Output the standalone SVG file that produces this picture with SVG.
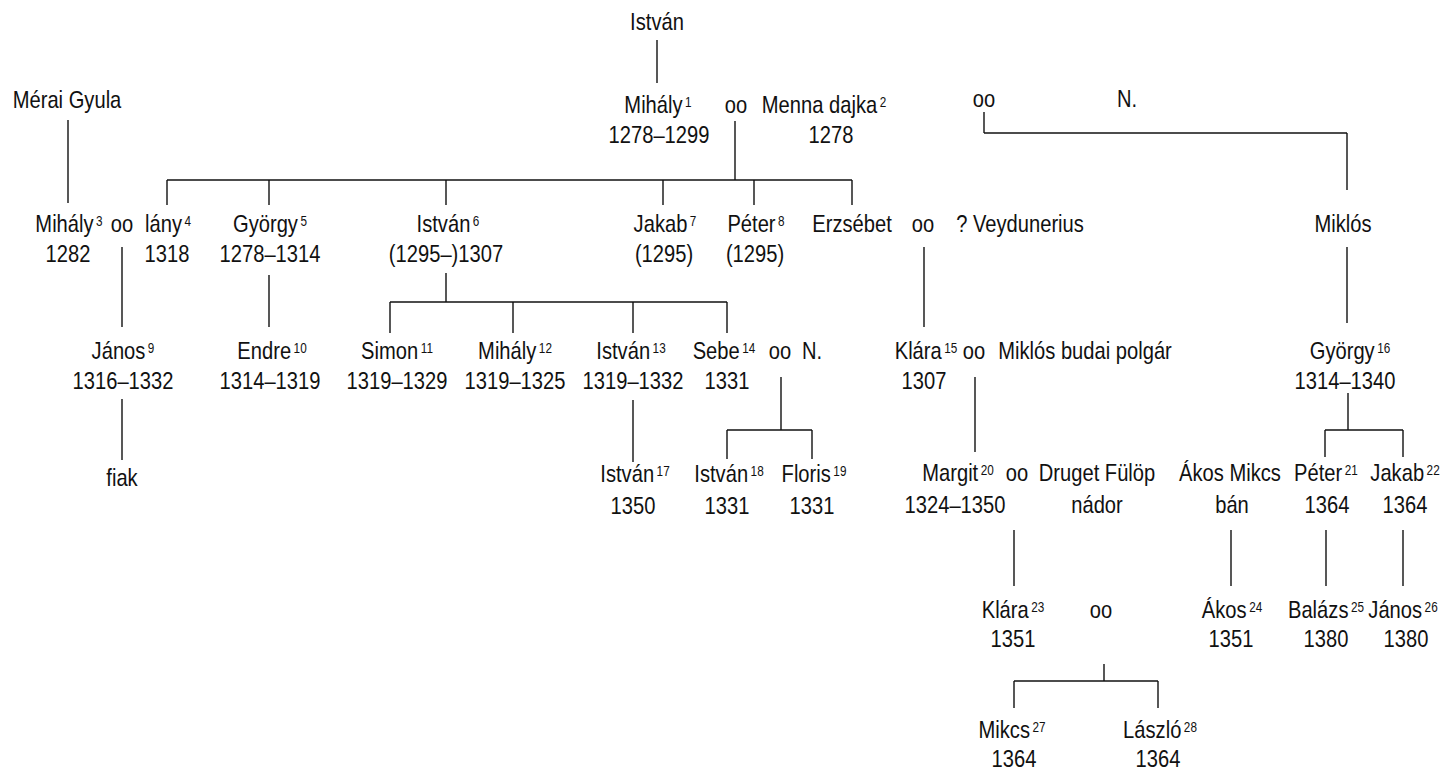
<svg xmlns="http://www.w3.org/2000/svg" width="1445" height="771" viewBox="0 0 1445 771">
<style>
text{font-family:"Liberation Sans",Arial,sans-serif;font-size:24px;fill:#111;text-anchor:middle}
.s{font-size:14px}
#connectors line{stroke:#111;stroke-width:1.4;fill:none}
</style>
<rect width="1445" height="771" fill="#fff"/>
<g id="connectors">
<line x1="657" y1="40" x2="657" y2="83"/>
<line x1="68" y1="120" x2="68" y2="203"/>
<line x1="735" y1="121" x2="735" y2="180"/>
<line x1="167" y1="180" x2="852" y2="180"/>
<line x1="167" y1="180" x2="167" y2="205"/>
<line x1="269" y1="180" x2="269" y2="205"/>
<line x1="446" y1="180" x2="446" y2="205"/>
<line x1="663" y1="180" x2="663" y2="205"/>
<line x1="754" y1="180" x2="754" y2="205"/>
<line x1="852" y1="180" x2="852" y2="205"/>
<line x1="984" y1="112" x2="984" y2="133"/>
<line x1="984" y1="133" x2="1347" y2="133"/>
<line x1="1347" y1="133" x2="1347" y2="190"/>
<line x1="122" y1="247" x2="122" y2="327"/>
<line x1="269" y1="275" x2="269" y2="327"/>
<line x1="446" y1="273" x2="446" y2="302"/>
<line x1="390" y1="302" x2="727" y2="302"/>
<line x1="390" y1="302" x2="390" y2="333"/>
<line x1="513" y1="302" x2="513" y2="333"/>
<line x1="633" y1="302" x2="633" y2="333"/>
<line x1="727" y1="302" x2="727" y2="333"/>
<line x1="924" y1="247" x2="924" y2="327"/>
<line x1="1347" y1="247" x2="1347" y2="323"/>
<line x1="122" y1="399" x2="122" y2="460"/>
<line x1="633" y1="400" x2="633" y2="462"/>
<line x1="781" y1="377" x2="781" y2="430"/>
<line x1="727" y1="430" x2="812" y2="430"/>
<line x1="727" y1="430" x2="727" y2="459"/>
<line x1="812" y1="430" x2="812" y2="459"/>
<line x1="975" y1="377" x2="975" y2="452"/>
<line x1="1348" y1="393" x2="1348" y2="430"/>
<line x1="1325" y1="430" x2="1403" y2="430"/>
<line x1="1325" y1="430" x2="1325" y2="457"/>
<line x1="1403" y1="430" x2="1403" y2="457"/>
<line x1="1014" y1="530" x2="1014" y2="586"/>
<line x1="1231" y1="530" x2="1231" y2="586"/>
<line x1="1326" y1="530" x2="1326" y2="586"/>
<line x1="1403" y1="530" x2="1403" y2="586"/>
<line x1="1104" y1="664" x2="1104" y2="681"/>
<line x1="1014" y1="681" x2="1158" y2="681"/>
<line x1="1014" y1="681" x2="1014" y2="708"/>
<line x1="1158" y1="681" x2="1158" y2="708"/>
</g>

<g id="istvan0"><text transform="translate(657,30) scale(.84,1)">István</text></g>
<g id="merai"><text transform="translate(67,108) scale(.84,1)">Mérai Gyula</text></g>
<g id="mihaly1"><text transform="translate(658,113) scale(.84,1)">Mihály<tspan class="s" dx="3" dy="-6">1</tspan></text><text transform="translate(659,143) scale(.84,1)">1278–1299</text></g>
<g id="oo1"><text transform="translate(736,113) scale(.84,1)">oo</text></g>
<g id="menna2"><text transform="translate(824,113) scale(.84,1)">Menna dajka<tspan class="s" dx="3" dy="-6">2</tspan></text><text transform="translate(831,143) scale(.84,1)">1278</text></g>
<g id="oo2"><text transform="translate(984,107) scale(.84,1)">oo</text></g>
<g id="n1"><text transform="translate(1127,107) scale(.84,1)">N.</text></g>

<g id="mihaly3"><text transform="translate(69,232) scale(.84,1)">Mihály<tspan class="s" dx="3" dy="-6">3</tspan></text><text transform="translate(68,262) scale(.84,1)">1282</text></g>
<g id="oo3"><text transform="translate(122,232) scale(.84,1)">oo</text></g>
<g id="lany4"><text transform="translate(168,232) scale(.84,1)">lány<tspan class="s" dx="3" dy="-6">4</tspan></text><text transform="translate(167,262) scale(.84,1)">1318</text></g>
<g id="gyorgy5"><text transform="translate(270,232) scale(.84,1)">György<tspan class="s" dx="3" dy="-6">5</tspan></text><text transform="translate(270,262) scale(.84,1)">1278–1314</text></g>
<g id="istvan6"><text transform="translate(448,232) scale(.84,1)">István<tspan class="s" dx="3" dy="-6">6</tspan></text><text transform="translate(446,262) scale(.84,1)">(1295–)1307</text></g>
<g id="jakab7"><text transform="translate(665,232) scale(.84,1)">Jakab<tspan class="s" dx="3" dy="-6">7</tspan></text><text transform="translate(664,262) scale(.84,1)">(1295)</text></g>
<g id="peter8"><text transform="translate(756,232) scale(.84,1)">Péter<tspan class="s" dx="3" dy="-6">8</tspan></text><text transform="translate(755,262) scale(.84,1)">(1295)</text></g>
<g id="erzsebet"><text transform="translate(852,232) scale(.84,1)">Erzsébet</text></g>
<g id="oo4"><text transform="translate(923,232) scale(.84,1)">oo</text></g>
<g id="veydunerius"><text transform="translate(1020,232) scale(.84,1)">? Veydunerius</text></g>
<g id="miklos"><text transform="translate(1343,232) scale(.84,1)">Miklós</text></g>

<g id="janos9"><text transform="translate(123,359) scale(.84,1)">János<tspan class="s" dx="3" dy="-6">9</tspan></text><text transform="translate(123,389) scale(.84,1)">1316–1332</text></g>
<g id="endre10"><text transform="translate(272,359) scale(.84,1)">Endre<tspan class="s" dx="3" dy="-6">10</tspan></text><text transform="translate(270,389) scale(.84,1)">1314–1319</text></g>
<g id="simon11"><text transform="translate(397,359) scale(.84,1)">Simon<tspan class="s" dx="3" dy="-6">11</tspan></text><text transform="translate(397,389) scale(.84,1)">1319–1329</text></g>
<g id="mihaly12"><text transform="translate(515,359) scale(.84,1)">Mihály<tspan class="s" dx="3" dy="-6">12</tspan></text><text transform="translate(515,389) scale(.84,1)">1319–1325</text></g>
<g id="istvan13"><text transform="translate(631,359) scale(.84,1)">István<tspan class="s" dx="3" dy="-6">13</tspan></text><text transform="translate(633,389) scale(.84,1)">1319–1332</text></g>
<g id="sebe14"><text transform="translate(724,359) scale(.84,1)">Sebe<tspan class="s" dx="3" dy="-6">14</tspan></text><text transform="translate(727,389) scale(.84,1)">1331</text></g>
<g id="oo5"><text transform="translate(780,359) scale(.84,1)">oo</text></g>
<g id="n2"><text transform="translate(812,359) scale(.84,1)">N.</text></g>
<g id="klara15"><text transform="translate(926,359) scale(.84,1)">Klára<tspan class="s" dx="3" dy="-6">15</tspan></text><text transform="translate(924,389) scale(.84,1)">1307</text></g>
<g id="oo6"><text transform="translate(974,359) scale(.84,1)">oo</text></g>
<g id="miklos_budai"><text transform="translate(1085,359) scale(.84,1)">Miklós budai polgár</text></g>
<g id="gyorgy16"><text transform="translate(1350,359) scale(.84,1)">György<tspan class="s" dx="3" dy="-6">16</tspan></text><text transform="translate(1345,389) scale(.84,1)">1314–1340</text></g>

<g id="fiak"><text transform="translate(122,486) scale(.84,1)">fiak</text></g>
<g id="istvan17"><text transform="translate(635,482) scale(.84,1)">István<tspan class="s" dx="3" dy="-6">17</tspan></text><text transform="translate(633,514) scale(.84,1)">1350</text></g>
<g id="istvan18"><text transform="translate(729,482) scale(.84,1)">István<tspan class="s" dx="3" dy="-6">18</tspan></text><text transform="translate(727,514) scale(.84,1)">1331</text></g>
<g id="floris19"><text transform="translate(814,482) scale(.84,1)">Floris<tspan class="s" dx="3" dy="-6">19</tspan></text><text transform="translate(812,514) scale(.84,1)">1331</text></g>
<g id="margit20"><text transform="translate(958,481) scale(.84,1)">Margit<tspan class="s" dx="3" dy="-6">20</tspan></text><text transform="translate(955,513) scale(.84,1)">1324–1350</text></g>
<g id="oo7"><text transform="translate(1017,481) scale(.84,1)">oo</text></g>
<g id="druget"><text transform="translate(1097,481) scale(.84,1)">Druget Fülöp</text><text transform="translate(1097,513) scale(.84,1)">nádor</text></g>
<g id="akos_mikcs"><text transform="translate(1230,481) scale(.84,1)">Ákos Mikcs</text><text transform="translate(1232,513) scale(.84,1)">bán</text></g>
<g id="peter21"><text transform="translate(1326,481) scale(.84,1)">Péter<tspan class="s" dx="3" dy="-6">21</tspan></text><text transform="translate(1327,513) scale(.84,1)">1364</text></g>
<g id="jakab22"><text transform="translate(1405,481) scale(.84,1)">Jakab<tspan class="s" dx="3" dy="-6">22</tspan></text><text transform="translate(1405,513) scale(.84,1)">1364</text></g>

<g id="klara23"><text transform="translate(1013,618) scale(.84,1)">Klára<tspan class="s" dx="3" dy="-6">23</tspan></text><text transform="translate(1013,647) scale(.84,1)">1351</text></g>
<g id="oo8"><text transform="translate(1101,618) scale(.84,1)">oo</text></g>
<g id="akos24"><text transform="translate(1232,618) scale(.84,1)">Ákos<tspan class="s" dx="3" dy="-6">24</tspan></text><text transform="translate(1231,647) scale(.84,1)">1351</text></g>
<g id="balazs25"><text transform="translate(1326,618) scale(.84,1)">Balázs<tspan class="s" dx="3" dy="-6">25</tspan></text><text transform="translate(1326,647) scale(.84,1)">1380</text></g>
<g id="janos26"><text transform="translate(1403,618) scale(.84,1)">János<tspan class="s" dx="3" dy="-6">26</tspan></text><text transform="translate(1406,647) scale(.84,1)">1380</text></g>

<g id="mikcs27"><text transform="translate(1012,738) scale(.84,1)">Mikcs<tspan class="s" dx="3" dy="-6">27</tspan></text><text transform="translate(1014,767) scale(.84,1)">1364</text></g>
<g id="laszlo28"><text transform="translate(1160,738) scale(.84,1)">László<tspan class="s" dx="3" dy="-6">28</tspan></text><text transform="translate(1158,767) scale(.84,1)">1364</text></g>
</svg>
